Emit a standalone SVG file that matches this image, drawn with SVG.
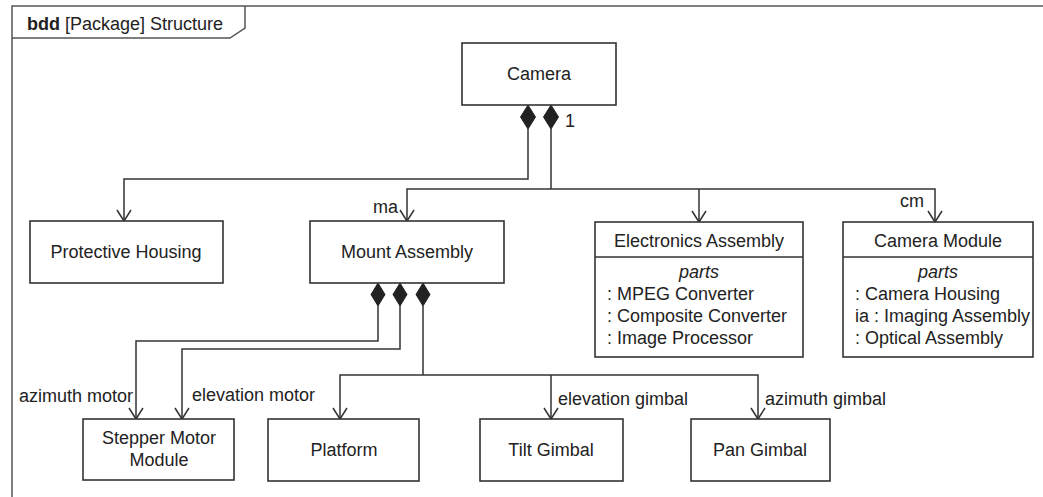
<svg xmlns="http://www.w3.org/2000/svg" width="1043" height="497" viewBox="0 0 1043 497">
<style>
text{font-family:"Liberation Sans",Arial,sans-serif;font-size:18px;fill:#222}
.c{text-anchor:middle}
.box{fill:#fff;stroke:#333;stroke-width:1.6}
.ln{fill:none;stroke:#333;stroke-width:1.5}
.arr{fill:none;stroke:#333;stroke-width:1.5}
.dia{fill:#222;stroke:#222;stroke-width:1}
.frame{fill:none;stroke:#555;stroke-width:1.5}
</style>
<rect x="0" y="0" width="1043" height="497" fill="#fff"/>
<g id="frame">
<rect class="frame" x="12" y="6" width="1100" height="600"/>
<path class="frame" d="M12,38 H230 L245,28 V6"/>
<text x="27" y="30"><tspan font-weight="bold">bdd</tspan> [Package] Structure</text>
</g>
<g id="connectors">
<path class="ln" d="M528,129 V179 H124 V221"/>
<path class="ln" d="M551,129 V189"/>
<path class="ln" d="M407,221 V189 H935 V222"/>
<path class="ln" d="M699,189 V222"/>
<path class="dia" d="M528,105 L535.5,117 L528,129 L520.5,117 Z"/>
<path class="dia" d="M551,105 L558.5,117 L551,129 L543.5,117 Z"/>
<path class="arr" d="M117,210 L124,221 L131,210"/>
<path class="arr" d="M400,210 L407,221 L414,210"/>
<path class="arr" d="M692,211 L699,222 L706,211"/>
<path class="arr" d="M928,211 L935,222 L942,211"/>
<text x="565" y="127">1</text>
<text x="398" y="213" text-anchor="end">ma</text>
<text x="924" y="207" text-anchor="end">cm</text>
<path class="ln" d="M378,306 V341 H136 V419"/>
<path class="ln" d="M400,306 V349 H182 V419"/>
<path class="ln" d="M423,306 V375"/>
<path class="ln" d="M340,419 V375 H758 V419"/>
<path class="ln" d="M551,375 V419"/>
<path class="dia" d="M378,283 L385,294.5 L378,306 L371,294.5 Z"/>
<path class="dia" d="M400,283 L407,294.5 L400,306 L393,294.5 Z"/>
<path class="dia" d="M423,283 L430,294.5 L423,306 L416,294.5 Z"/>
<path class="arr" d="M129,408 L136,419 L143,408"/>
<path class="arr" d="M175,408 L182,419 L189,408"/>
<path class="arr" d="M333,408 L340,419 L347,408"/>
<path class="arr" d="M544,408 L551,419 L558,408"/>
<path class="arr" d="M751,408 L758,419 L765,408"/>
<text x="133" y="402" text-anchor="end">azimuth motor</text>
<text x="192" y="401">elevation motor</text>
<text x="558" y="405">elevation gimbal</text>
<text x="765" y="405">azimuth gimbal</text>
</g>
<g id="camera">
<rect class="box" x="462" y="43" width="154" height="62"/>
<text class="c" x="539" y="80">Camera</text>
</g>
<g id="protective-housing">
<rect class="box" x="30" y="221" width="193" height="62"/>
<text class="c" x="126" y="258">Protective Housing</text>
</g>
<g id="mount-assembly">
<rect class="box" x="310" y="221" width="194" height="62"/>
<text class="c" x="407" y="258">Mount Assembly</text>
</g>
<g id="electronics-assembly">
<rect class="box" x="595" y="222" width="208" height="135"/>
<line class="ln" x1="595" y1="257" x2="803" y2="257"/>
<text class="c" x="699" y="247">Electronics Assembly</text>
<text class="c" x="699" y="278" font-style="italic">parts</text>
<text x="607" y="300">: MPEG Converter</text>
<text x="607" y="322">: Composite Converter</text>
<text x="607" y="344">: Image Processor</text>
</g>
<g id="camera-module">
<rect class="box" x="843" y="222" width="190" height="135"/>
<line class="ln" x1="843" y1="257" x2="1033" y2="257"/>
<text class="c" x="938" y="247">Camera Module</text>
<text class="c" x="938" y="278" font-style="italic">parts</text>
<text x="855" y="300">: Camera Housing</text>
<text x="855" y="322">ia : Imaging Assembly</text>
<text x="855" y="344">: Optical Assembly</text>
</g>
<g id="stepper-motor-module">
<rect class="box" x="83" y="419" width="151" height="61"/>
<text class="c" x="159" y="444">Stepper Motor</text>
<text class="c" x="159" y="466">Module</text>
</g>
<g id="platform">
<rect class="box" x="268" y="419" width="151" height="62"/>
<text class="c" x="344" y="456">Platform</text>
</g>
<g id="tilt-gimbal">
<rect class="box" x="480" y="419" width="143" height="62"/>
<text class="c" x="551" y="456">Tilt Gimbal</text>
</g>
<g id="pan-gimbal">
<rect class="box" x="691" y="419" width="139" height="62"/>
<text class="c" x="760" y="456">Pan Gimbal</text>
</g>
</svg>
